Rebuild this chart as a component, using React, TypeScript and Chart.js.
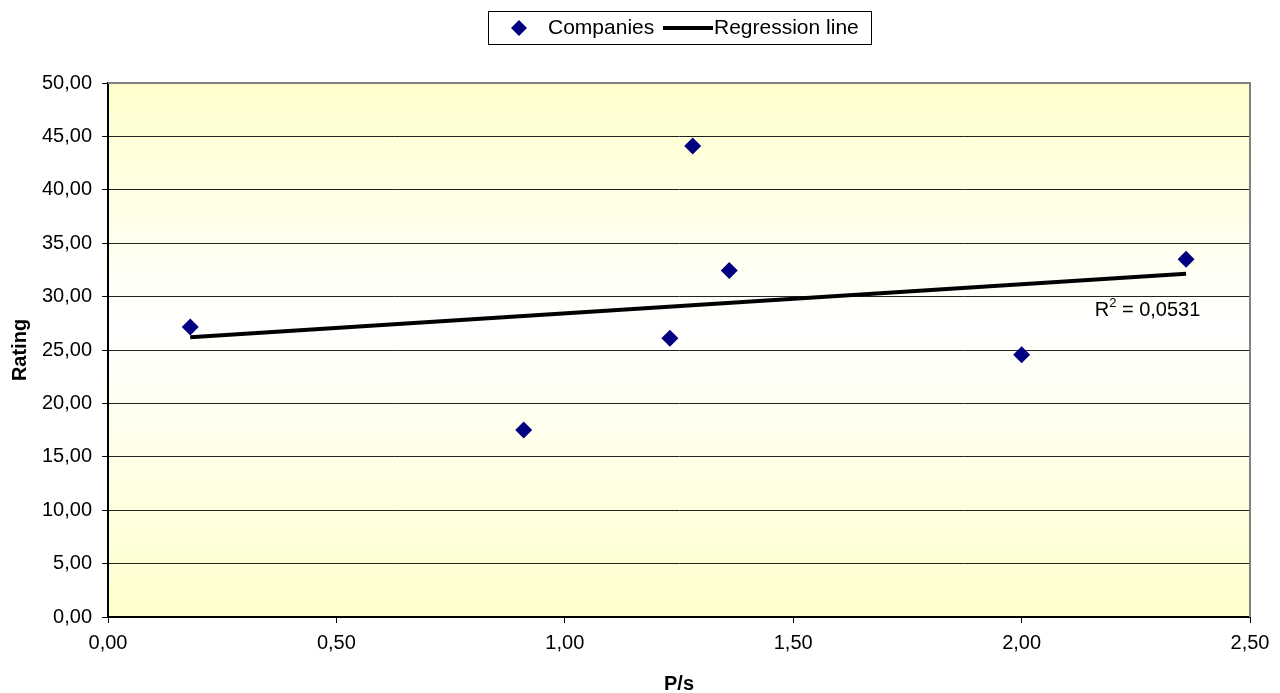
import React, { useEffect, useRef } from "react";
import { Chart, registerables } from "chart.js";

Chart.register(...registerables);

const companyPs = [0.18, 0.91, 1.23, 1.28, 1.36, 2.0, 2.36];
const companyRating = [27.15, 17.5, 26.1, 44.1, 32.45, 24.55, 33.5];
const regressionPs = [0.18, 2.36];
const regressionRating = [26.19, 32.14];
const seriesNames = ["Companies", "Regression line"];
const r2Label = "0,0531";
const xTitle = "P/s";
const yTitle = "Rating";

const FONT = "'Liberation Sans', Arial, sans-serif";
const fmt = (v: number) => v.toFixed(2).replace(".", ",");

const bgPlugin = {
  id: "bgPlugin",
  beforeDraw(chart: any) {
    const { ctx, chartArea } = chart;
    const { left, top, right, bottom } = chartArea;
    const g = ctx.createLinearGradient(0, top, 0, bottom);
    g.addColorStop(0, "#FFFFCC");
    g.addColorStop(0.45, "#FFFFFF");
    g.addColorStop(1, "#FFFFCC");
    ctx.save();
    ctx.fillStyle = g;
    ctx.fillRect(left, top, right - left, bottom - top);
    ctx.restore();
  },
  afterDraw(chart: any) {
    const { ctx, chartArea } = chart;
    const { left, top, right, bottom } = chartArea;
    ctx.save();
    ctx.strokeStyle = "#808080";
    ctx.lineWidth = 2;
    ctx.beginPath();
    ctx.moveTo(left, top);
    ctx.lineTo(right, top);
    ctx.lineTo(right, bottom);
    ctx.stroke();

    // legend box
    ctx.strokeStyle = "#000";
    ctx.lineWidth = 1;
    ctx.strokeRect(488.5, 11.5, 383, 33);
    ctx.fillStyle = "#000080";
    ctx.beginPath();
    ctx.moveTo(519, 20);
    ctx.lineTo(527, 28);
    ctx.lineTo(519, 36);
    ctx.lineTo(511, 28);
    ctx.closePath();
    ctx.fill();
    ctx.fillStyle = "#000";
    ctx.font = `21px ${FONT}`;
    ctx.textBaseline = "middle";
    ctx.textAlign = "left";
    ctx.fillText(seriesNames[0], 548, 28);
    ctx.lineWidth = 4;
    ctx.beginPath();
    ctx.moveTo(663, 28);
    ctx.lineTo(713, 28);
    ctx.stroke();
    ctx.fillText(seriesNames[1], 714, 28);

    // R^2 label
    const xs = chart.scales.x;
    const ys = chart.scales.y;
    const lx = xs.getPixelForValue(2.16);
    const ly = ys.getPixelForValue(28.2);
    ctx.textBaseline = "alphabetic";
    ctx.font = `20px ${FONT}`;
    ctx.fillText("R", lx, ly);
    let w = ctx.measureText("R").width;
    ctx.font = `13px ${FONT}`;
    ctx.fillText("2", lx + w, ly - 9);
    w += ctx.measureText("2").width;
    ctx.font = `20px ${FONT}`;
    ctx.fillText(" = " + r2Label, lx + w, ly);
    ctx.restore();
  },
};

export default function App() {
  const ref = useRef<HTMLCanvasElement>(null);
  useEffect(() => {
    if (!ref.current) return;
    const chart = new Chart(ref.current, {
      type: "scatter",
      data: {
        datasets: [
          {
            label: seriesNames[0],
            data: companyPs.map((x, i) => ({ x, y: companyRating[i] })),
            pointStyle: "rectRot",
            pointRadius: 8.5,
            pointHoverRadius: 8.5,
            backgroundColor: "#000080",
            borderColor: "#000080",
            borderWidth: 0,
            showLine: false,
            order: 1,
          },
          {
            label: seriesNames[1],
            type: "line",
            data: regressionPs.map((x, i) => ({ x, y: regressionRating[i] })),
            borderColor: "#000",
            borderWidth: 4,
            pointRadius: 0,
            fill: false,
            order: 2,
          } as any,
        ],
      },
      options: {
        animation: false,
        responsive: false,
        maintainAspectRatio: false,
        layout: { padding: { left: 0, top: 83, right: 30, bottom: 0 } },
        plugins: {
          legend: { display: false },
          tooltip: { enabled: false },
        },
        scales: {
          x: {
            type: "linear",
            min: 0,
            max: 2.5,
            ticks: {
              stepSize: 0.5,
              color: "#000",
              font: { family: FONT, size: 20 },
              padding: 8,
              maxRotation: 0,
              callback: (v: any) => fmt(Number(v)),
            },
            grid: {
              display: true,
              drawOnChartArea: false,
              drawTicks: true,
              tickLength: 6,
              color: "#000",
            },
            border: { display: true, color: "#000", width: 2 },
            title: {
              display: true,
              text: xTitle,
              color: "#000",
              font: { family: FONT, size: 20, weight: "bold" },
              padding: { top: 0, bottom: -3 },
            },
            afterFit: (s: any) => {
              s.height = 76;
            },
          },
          y: {
            type: "linear",
            min: 0,
            max: 50,
            ticks: {
              stepSize: 5,
              color: "#000",
              font: { family: FONT, size: 20 },
              padding: 10,
              callback: (v: any) => fmt(Number(v)),
            },
            grid: {
              color: "#222",
              lineWidth: 1,
              tickLength: 6,
              tickColor: "#000",
            },
            border: { display: true, color: "#000", width: 2 },
            title: {
              display: true,
              text: yTitle,
              color: "#000",
              font: { family: FONT, size: 20, weight: "bold" },
              padding: { top: 8, bottom: 0 },
            },
            afterFit: (s: any) => {
              s.width = 108;
            },
          },
        },
      },
      plugins: [bgPlugin],
    });
    return () => chart.destroy();
  }, []);
  return (
    <div style={{ position: "fixed", left: 0, top: 0, width: 1280, height: 693, background: "#fff" }}>
      <canvas ref={ref} width={1280} height={693} style={{ width: 1280, height: 693 }} />
    </div>
  );
}
